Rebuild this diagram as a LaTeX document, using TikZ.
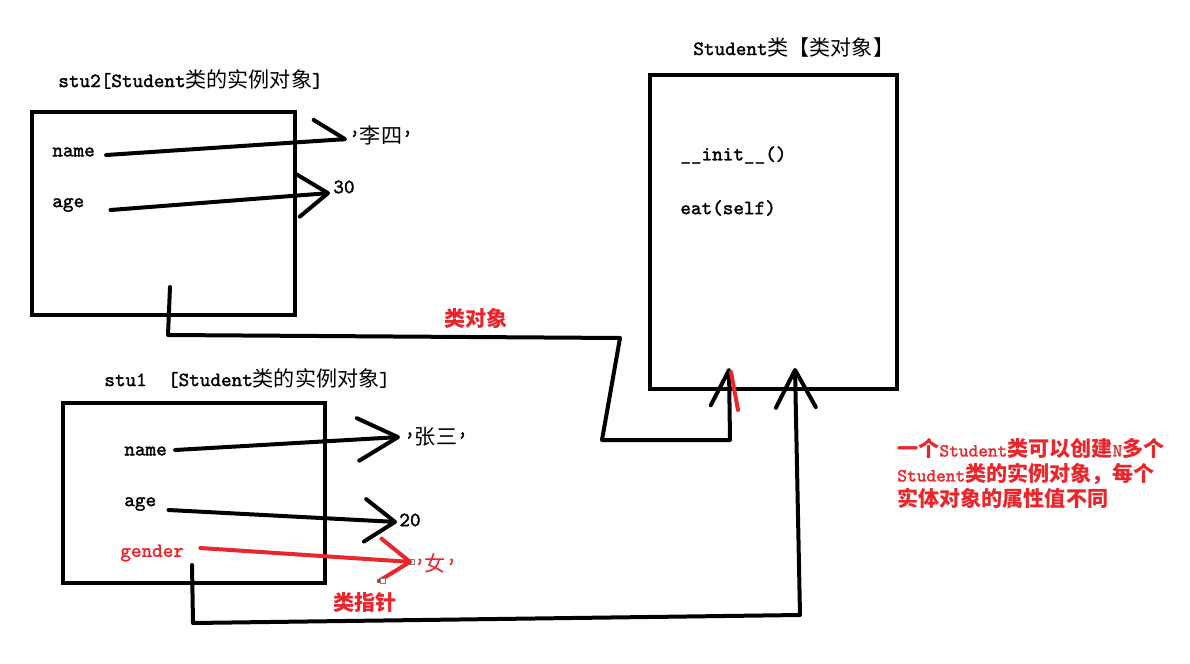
\documentclass[tikz,border=0pt]{standalone}
\usepackage{fontspec}
\setmainfont{lmmono10}[Extension=.otf, UprightFont=*-regular, BoldFont=*-regular,
  BoldFeatures={FakeBold=1.6}]
\newfontfamily\cjk{Noto Sans CJK SC}
\usepackage{xcolor}
\usetikzlibrary{arrows.meta, positioning}
\definecolor{rojo}{HTML}{E8262B}
\newcommand{\zh}[1]{{\cjk\mdseries\fontsize{12}{14}\selectfont #1}}
\newcommand{\zhb}[1]{{\cjk\bfseries\fontsize{12}{14}\selectfont #1}}
\tikzset{
  every picture/.style={font=\bfseries\fontsize{11.5}{13}\selectfont},
  caja/.style={draw, line width=0.09cm, inner sep=0pt},
  campo/.style={anchor=west, inner sep=0pt},
  flecha/.style={-{Straight Barb[length=0.6cm, width=0.85cm, round]}, line width=0.08cm,
                 line cap=round, line join=round},
  flechau/.style={-{Straight Barb[length=0.6cm, width=0.85cm, round, harpoon]}, line width=0.08cm,
                  line cap=round, line join=round},
  roja/.style={draw=rojo, line width=0.08cm, line cap=round},
  asa/.style={draw=gray, fill=white, line width=0.3pt, minimum size=0.1cm, inner sep=0pt},
}
\begin{document}
\begin{tikzpicture}[x=0.02cm, y=-0.02cm]
  \fill[white] (0,0) rectangle (1190,663);
  \useasboundingbox (0,0) rectangle (1190,663);
  % cajas
  \node[caja, minimum width=5.26cm, minimum height=4.06cm] (stu2) at (163.5,213.5) {};
  \node[caja, minimum width=4.94cm, minimum height=6.28cm] (clase) at (773.5,232) {};
  \node[caja, minimum width=5.24cm, minimum height=3.6cm] (stu1) at (194,493) {};
  % titulos
  \node[campo] (t2) at (58,79) {stu2[Student\zh{类的实例对象}]};
  \node[campo] (t1) at (104,378) {stu1\ \ [Student\zh{类的实例对象}]};
  \node[campo] (tc) at (693,47) {Student\zh{类【类对象】}};
  % stu2
  \node[campo] (n2) at (52,152) {name};
  \node[campo] (a2) at (52,205) {age};
  \node[campo] (v2n) at (349,135) {'\zh{李四}'};
  \node[campo] (v2a) at (333,187) {30};
  \draw[flechau] ([shift={(11,3)}]n2.east) -- ([shift={(-2,4)}]v2n.west);
  \draw[flecha] ([shift={(26,5)}]a2.east) -- ([shift={(-3,6)}]v2a.west);
  % clase
  \node[campo] (m1) at (680,155) {\_\_init\_\_()};
  \node[campo] (m2) at (680,208) {eat(self)};
  % stu1
  \node[campo] (n1) at (124,451) {name};
  \node[campo] (a1) at (124,504) {age};
  \node[campo, text=rojo] (g1) at (120,553) {gender};
  \node[campo] (v1n) at (404,437) {'\zh{张三}'};
  \node[campo] (v1a) at (399,520) {20};
  \node[campo, text=rojo] (v1g) at (414,563) {'\zh{女}'};
  \draw[flecha, -{Straight Barb[length=0.8cm, width=0.85cm, round]}]
    ([shift={(8,-1)}]n1.east) -- ([shift={(-4,0)}]v1n.west);
  \draw[flecha] ([shift={(12,6)}]a1.east) -- ([shift={(-2,2)}]v1a.west);
  \node[asa] (h1) at (412,562) {};
  \draw[flecha, rojo] ([shift={(16,-5)}]g1.east) -- (h1.center);
  \node[asa] (h2) at (383,581) {};
  % punteros
  \node[campo, text=rojo] (lco) at (444,318) {\zhb{类对象}};
  \node[campo, text=rojo] (lcp) at (333,603) {\zhb{类指针}};
  \coordinate (s2) at (170,287);
  \coordinate (k1) at (729,368);
  \draw[flechau, -{Straight Barb[length=0.7cm, width=0.75cm, round, harpoon]}]
    (s2) -- (168,335) -- (620,338) -- (602,440) -- (730,440) -- (k1);
  \draw[roja] ([shift={(2,4)}]k1) -- ([shift={(9,42)}]k1);
  \coordinate (s1) at (192,565);
  \coordinate (k2) at (795,368);
  \draw[flecha, -{Straight Barb[length=0.75cm, width=0.8cm, round]}]
    (s1) -- (193,623) -- (800,615) -- (k2);
  % nota
  \node[campo, anchor=north west, align=left, text=rojo, font=\bfseries\fontsize{10.5}{14.2}\selectfont]
    (nota) at (897,438)
    {\zhb{一个}Student\zhb{类可以创建}N\zhb{多个}\\
     Student\zhb{类的实例对象，每个}\\
     \zhb{实体对象的属性值不同}};
\end{tikzpicture}
\end{document}
